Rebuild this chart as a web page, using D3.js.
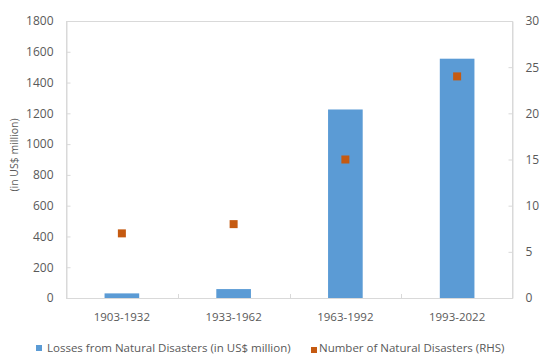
<!DOCTYPE html>
<html>
<head>
<meta charset="utf-8">
<script src="https://cdn.jsdelivr.net/npm/d3@7"></script>
<style>
  html, body { margin: 0; padding: 0; background: #fff; }
  svg text { font-family: "Open Sans", "Noto Sans", sans-serif; fill: #595959; }
</style>
</head>
<body>
<svg id="chart" width="540" height="356"></svg>
<script>
// Periods and series
const periods = ["1903-1932", "1933-1962", "1963-1992", "1993-2022"];
const losses = [30, 58, 1225, 1555];      // US$ million (left axis)
const disasterCounts = [7, 8, 15, 24];   // number of events (right axis)
const leftTicks = [0, 200, 400, 600, 800, 1000, 1200, 1400, 1600, 1800];
const rightTicks = [0, 5, 10, 15, 20, 25, 30];
const seriesNames = ["Losses from Natural Disasters (in US$ million)", "Number of Natural Disasters (RHS)"];

const barColor = "#5b9bd5";
const markerColor = "#c55a11";
const frameColor = "#d9d9d9";

const svg = d3.select("#chart");
const plot = { left: 66, right: 513, top: 21, bottom: 298 };

const x = d3.scaleBand().domain(periods).range([plot.left, plot.right]).paddingInner(0.69).paddingOuter(0.345);
const xCat = d3.scaleBand().domain(periods).range([plot.left, plot.right]);
const yL = d3.scaleLinear().domain([0, 1800]).range([plot.bottom, plot.top]);
const yR = d3.scaleLinear().domain([0, 30]).range([plot.bottom, plot.top]);

// plot frame
svg.append("rect")
  .attr("x", plot.left + 0.5).attr("y", plot.top + 0.5)
  .attr("width", plot.right - plot.left - 1).attr("height", plot.bottom - plot.top)
  .attr("fill", "none").attr("stroke", frameColor);

// left axis
const gL = svg.append("g").attr("transform", `translate(${plot.left + 0.5},0)`)
  .call(d3.axisLeft(yL).tickValues(leftTicks).tickFormat(d3.format("d")).tickSize(-4).tickPadding(13));
gL.select(".domain").attr("stroke", frameColor);
gL.selectAll(".tick line").attr("stroke", frameColor);
gL.selectAll(".tick text").attr("font-size", 12).attr("fill", "#595959");

// right axis
const gR = svg.append("g").attr("transform", `translate(${plot.right - 0.5},0)`)
  .call(d3.axisRight(yR).tickValues(rightTicks).tickFormat(d3.format("d")).tickSize(-4).tickPadding(13));
gR.select(".domain").attr("stroke", frameColor);
gR.selectAll(".tick line").attr("stroke", frameColor);
gR.selectAll(".tick text").attr("font-size", 12).attr("fill", "#595959").attr("text-anchor", "start");

// category boundary ticks on the baseline
svg.append("g").selectAll("line")
  .data(periods.slice(1))
  .join("line")
  .attr("x1", d => Math.round(xCat(d)) + 0.5).attr("x2", d => Math.round(xCat(d)) + 0.5)
  .attr("y1", plot.bottom).attr("y2", plot.bottom - 4)
  .attr("stroke", frameColor);

// category labels
svg.append("g").selectAll("text")
  .data(periods)
  .join("text")
  .attr("x", d => xCat(d) + xCat.bandwidth() / 2)
  .attr("y", 321)
  .attr("text-anchor", "middle")
  .attr("font-size", 11.5)
  .text(d => d);

// bars
svg.append("g").selectAll("rect")
  .data(losses)
  .join("rect")
  .attr("x", (d, i) => x(periods[i]))
  .attr("width", x.bandwidth())
  .attr("y", d => yL(d))
  .attr("height", d => yL(0) - yL(d))
  .attr("fill", barColor);

// count markers
const m = 8;
svg.append("g").selectAll("rect")
  .data(disasterCounts)
  .join("rect")
  .attr("x", (d, i) => xCat(periods[i]) + xCat.bandwidth() / 2 - m / 2)
  .attr("y", d => yR(d) - m / 2)
  .attr("width", m).attr("height", m)
  .attr("fill", markerColor);

// left axis title
svg.append("text")
  .attr("transform", "translate(18,155) rotate(-90)")
  .attr("text-anchor", "middle")
  .attr("font-size", 10.5)
  .text("(in US$ million)");

// legend
const legend = svg.append("g");
legend.append("rect").attr("x", 36).attr("y", 345).attr("width", 6).attr("height", 6).attr("fill", barColor);
legend.append("text").attr("x", 47).attr("y", 351.5).attr("font-size", 11.5).text(seriesNames[0]);
legend.append("rect").attr("x", 311).attr("y", 347).attr("width", 6).attr("height", 6).attr("fill", markerColor);
legend.append("text").attr("x", 319).attr("y", 351.5).attr("font-size", 11.5).text(seriesNames[1]);
</script>
</body>
</html>
